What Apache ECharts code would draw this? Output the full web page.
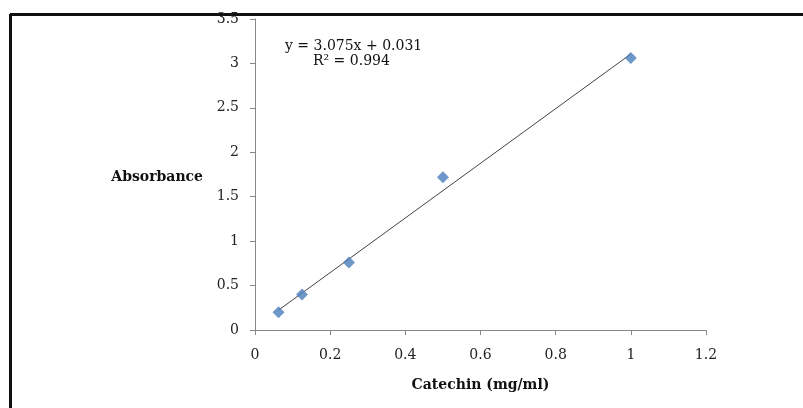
<!DOCTYPE html>
<html style="height: 100%">
   <head>
       <meta charset="utf-8">
       <title>Catechin standard curve</title>
   </head>
   <body style="height: 100%; margin: 0; background: #fff">
       <div id="container" style="width: 803px; height: 408px"></div>
       <script type="text/javascript" src="https://cdn.jsdelivr.net/npm/echarts@6/dist/echarts.min.js"></script>
       <script type="text/javascript">
           // concentration (mg/ml) and absorbance
           var catechin = [0.0625, 0.125, 0.25, 0.5, 1];
           var absorbance = [0.2, 0.4, 0.76, 1.72, 3.06];
           // ends of the linear trendline
           var trendX = [0.0625, 1];
           var trendY = [0.223, 3.106];
           var equationText = 'y = 3.075x + 0.031';
           var r2Text = 'R² = 0.994';

           var points = catechin.map(function (x, i) { return [x, absorbance[i]]; });
           var trend = trendX.map(function (x, i) { return [x, trendY[i]]; });

           var dom = document.getElementById("container");
           var myChart = echarts.init(dom);
           var serif = 'DejaVu Serif';

           var option = {
               animation: false,
               backgroundColor: '#fff',
               grid: { left: 255, top: 19, right: 97, bottom: 78 },
               xAxis: {
                   type: 'value',
                   min: 0, max: 1.2, interval: 0.2,
                   name: 'Catechin (mg/ml)',
                   nameLocation: 'middle',
                   nameGap: 48,
                   nameTextStyle: { fontFamily: serif, fontWeight: 'bold', fontSize: 14, color: '#111' },
                   axisLine: { lineStyle: { color: '#888' } },
                   axisTick: { show: true, length: 5, lineStyle: { color: '#888' } },
                   axisLabel: { fontFamily: serif, fontSize: 14, color: '#222', margin: 18 },
                   splitLine: { show: false }
               },
               yAxis: {
                   type: 'value',
                   min: 0, max: 3.5, interval: 0.5,
                   name: 'Absorbance',
                   nameLocation: 'middle',
                   nameRotate: 0,
                   nameGap: 52,
                   nameTextStyle: { fontFamily: serif, fontWeight: 'bold', fontSize: 14, color: '#111', align: 'right', verticalAlign: 'top', lineHeight: 6 },
                   axisLine: { show: true, lineStyle: { color: '#888' } },
                   axisTick: { show: true, length: 5, lineStyle: { color: '#888' } },
                   axisLabel: { fontFamily: serif, fontSize: 14, color: '#222', margin: 16 },
                   splitLine: { show: false }
               },
               graphic: [
                   { type: 'line', shape: { x1: 10, y1: 14.5, x2: 803, y2: 14.5 }, style: { stroke: '#111', lineWidth: 3 } },
                   { type: 'line', shape: { x1: 10.5, y1: 14, x2: 10.5, y2: 408 }, style: { stroke: '#111', lineWidth: 3 } },
                   { type: 'text', left: 285, top: 39, style: { text: equationText, font: '14px "DejaVu Serif"', fill: '#111' } },
                   { type: 'text', left: 313, top: 54, style: { text: r2Text, font: '14px "DejaVu Serif"', fill: '#111' } }
               ],
               series: [
                   {
                       type: 'line',
                       data: trend,
                       symbol: 'none',
                       lineStyle: { color: '#444', width: 1 },
                       z: 1
                   },
                   {
                       type: 'scatter',
                       data: points,
                       symbol: 'diamond',
                       symbolSize: 12,
                       itemStyle: { color: '#4A7EBB' },
                       z: 2
                   }
               ]
           };
           myChart.setOption(option);
       </script>
   </body>
</html>
